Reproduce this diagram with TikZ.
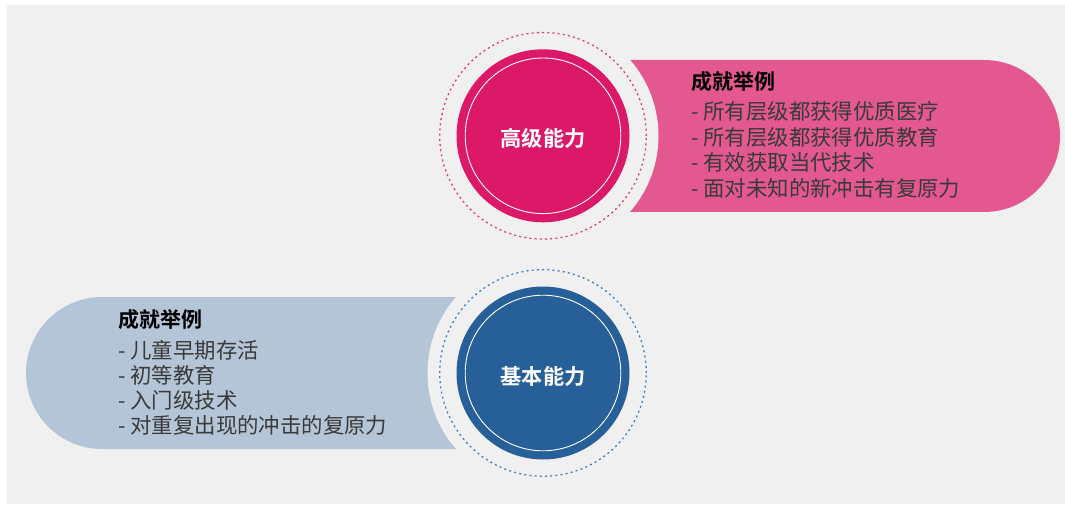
\documentclass[tikz,border=0pt]{standalone}
\usepackage{fontspec}
\setmainfont{Noto Sans CJK SC}
\newfontfamily\cjkbold{Noto Sans CJK SC Bold}
\begin{document}
\begin{tikzpicture}[x=1pt,y=1pt,
  bgcol/.style={fill=bggray},
  listline/.style={anchor=west,inner sep=0pt,font=\fontsize{21.4}{24}\selectfont,text=txtgray},
  listtitle/.style={anchor=west,inner sep=0pt,font=\cjkbold\fontsize{21}{24}\selectfont,text=black},
  circlabel/.style={inner sep=0pt,font=\cjkbold\fontsize{21.2}{24}\selectfont,text=white},
  dotring/.style={line width=1.3pt,dash pattern=on 2pt off 3.2pt},
  whitering/.style={draw=white,line width=0.9pt}
]
\definecolor{bggray}{HTML}{F0F0F0}
\definecolor{pinkdark}{HTML}{DC1868}
\definecolor{pinklight}{HTML}{E2588F}
\definecolor{pinkdot}{HTML}{E03A75}
\definecolor{bluedark}{HTML}{276099}
\definecolor{bluelight}{HTML}{B4C5D7}
\definecolor{bluedot}{HTML}{3A80C8}
\definecolor{txtgray}{HTML}{3A3A3A}
\useasboundingbox (0,0) rectangle (1065,504);
\fill[white] (0,0) rectangle (1065,504);
\fill[bggray] (7,0) rectangle (1065,499);
% top pill
\fill[pinklight] (560,444) -- (984,444) arc[start angle=90,end angle=-90,radius=76] -- (560,292) -- cycle;
% bottom pill
\fill[bluelight] (526,207) -- (102,207) arc[start angle=90,end angle=270,radius=76] -- (526,55) -- cycle;
% top circle
\coordinate (tc) at (543,368.2);
\fill[bgcol] (tc) circle[radius=115.5];
\draw[dotring,draw=pinkdot] (tc) circle[radius=103.3];
\fill[pinkdark] (tc) circle[radius=86.5];
\draw[whitering] (tc) circle[radius=77.8];
\node[circlabel] (tl) at (543,366) {高级能力};
% bottom circle
\coordinate (bc) at (543,131);
\fill[bgcol] (bc) circle[radius=115.5];
\draw[dotring,draw=bluedot] (bc) circle[radius=103.3];
\fill[bluedark] (bc) circle[radius=86.5];
\draw[whitering] (bc) circle[radius=77.8];
\node[circlabel] (bl) at (543,128) {基本能力};
% top texts
\node[listtitle] (tt) at (691,422.3) {成就举例};
\node[listline] (t1) at (691,392.3) {- 所有层级都获得优质医疗};
\node[listline] (t2) at (691,366.7) {- 所有层级都获得优质教育};
\node[listline] (t3) at (691,341.2) {- 有效获取当代技术};
\node[listline] (t4) at (691,315.7) {- 面对未知的新冲击有复原力};
% bottom texts
\node[listtitle] (bt) at (118,184.7) {成就举例};
\node[listline] (b1) at (118,154) {- 儿童早期存活};
\node[listline] (b2) at (118,129) {- 初等教育};
\node[listline] (b3) at (118,104) {- 入门级技术};
\node[listline] (b4) at (118,79) {- 对重复出现的冲击的复原力};
\end{tikzpicture}
\end{document}
